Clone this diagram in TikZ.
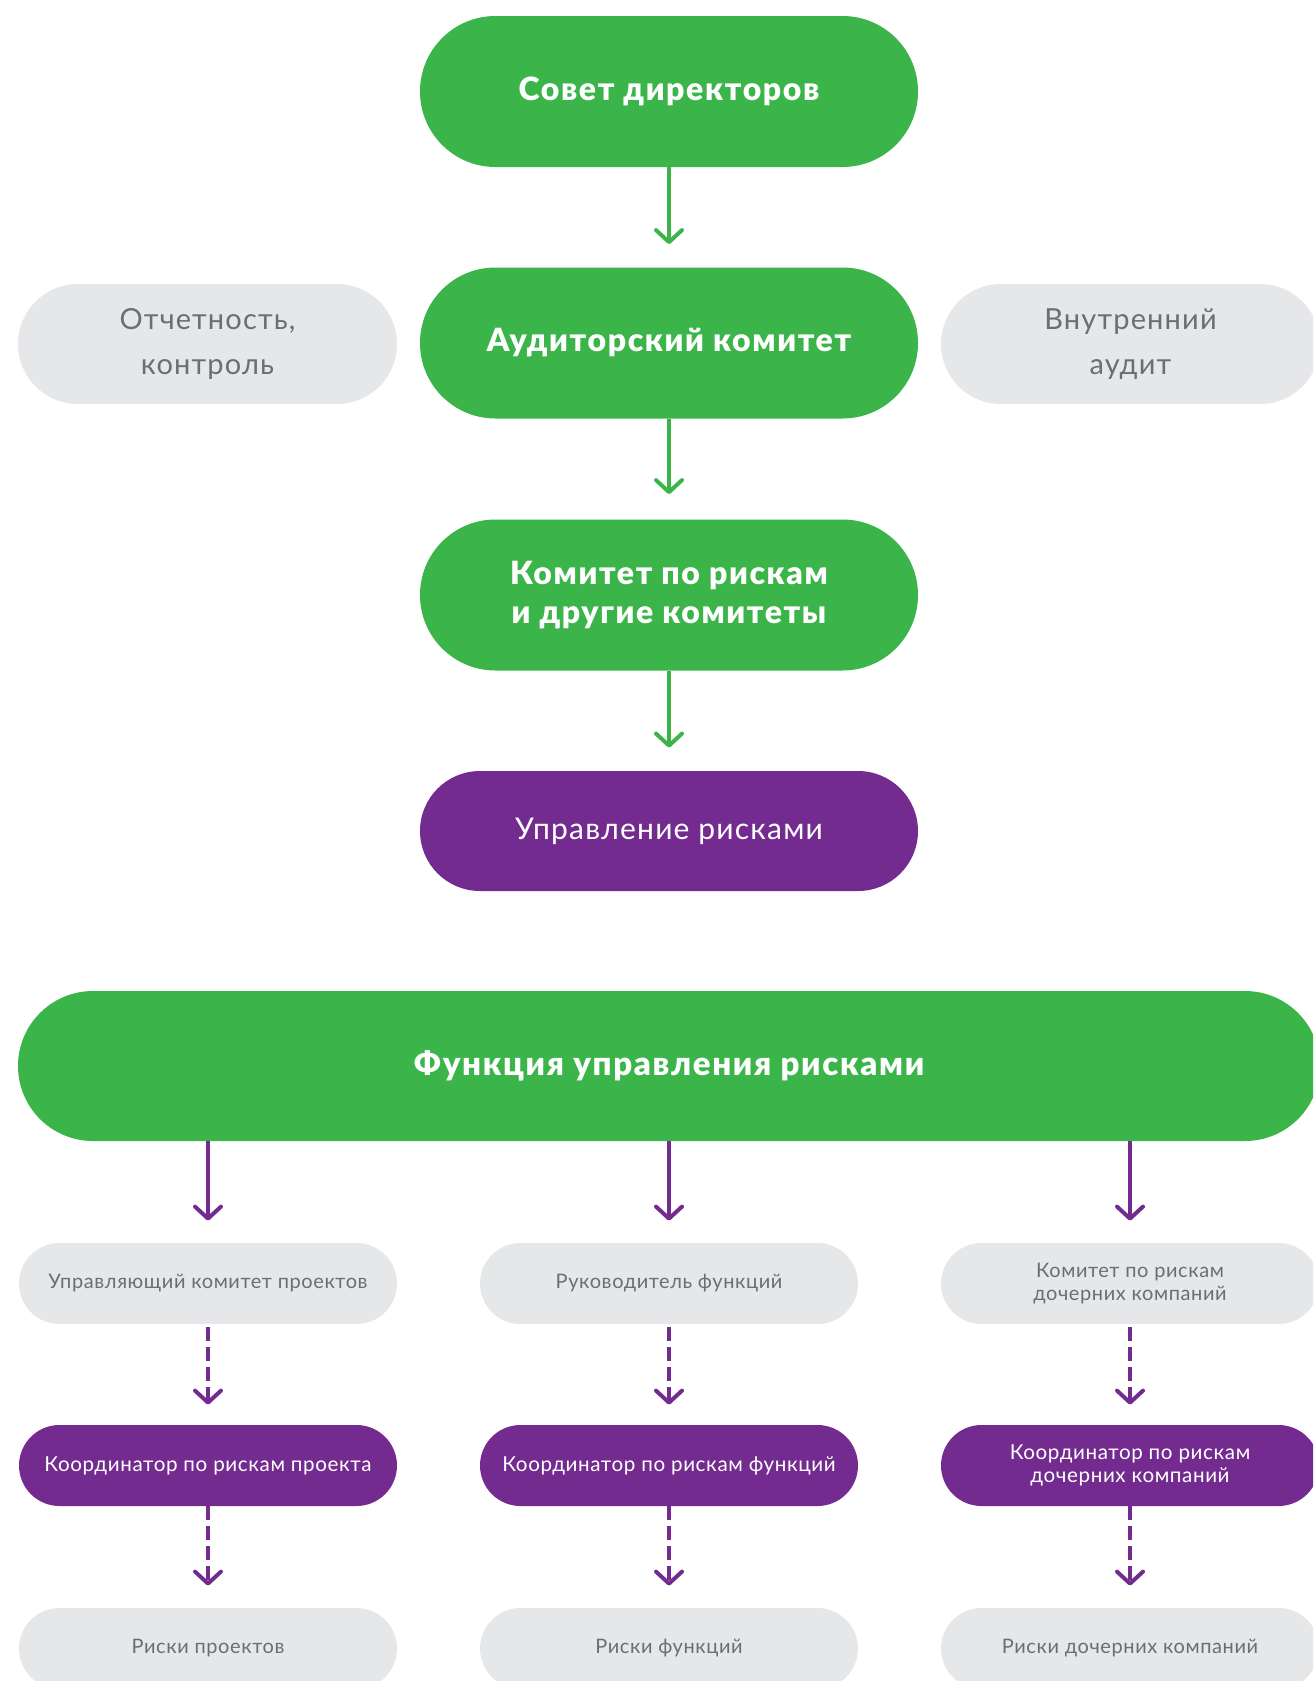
\documentclass[tikz,border=0pt]{standalone}
\usepackage{fontspec}
\setmainfont{Lato}
\newfontfamily\heavyfont{Lato Black}[LetterSpace=5]
\newfontfamily\bodyfont{Lato}[LetterSpace=4]
\newfontfamily\smallfont{Lato}[LetterSpace=3]
\usetikzlibrary{arrows.meta}
\definecolor{cgreen}{HTML}{3BB54A}
\definecolor{cpurple}{HTML}{732B8F}
\definecolor{cgrayfill}{HTML}{E6E7E8}
\definecolor{cgraytext}{HTML}{6D6E71}
\begin{document}
\begin{tikzpicture}[x=0.5pt,y=-0.5pt,
  pill/.style={rectangle, rounded corners=#1, inner sep=0pt, align=center, draw=none},
  headbox/.style={pill=37.7pt, minimum width=249pt, minimum height=75.5pt, fill=cgreen, text=white,
    font=\heavyfont\fontsize{16}{19.3}\selectfont},
  sidebox/.style={pill=30pt, minimum width=189.5pt, minimum height=60pt, fill=cgrayfill, text=cgraytext,
    font=\bodyfont\fontsize{14.5}{22.5}\selectfont},
  mgmtbox/.style={pill=30pt, minimum width=249pt, minimum height=60pt, fill=cpurple, text=white,
    font=\bodyfont\fontsize{15}{22.5}\selectfont},
  funcbox/.style={pill=37.5pt, minimum width=651pt, minimum height=75pt, fill=cgreen, text=white,
    font=\heavyfont\fontsize{16.5}{19.3}\selectfont},
  smallgray/.style={pill=20.25pt, minimum width=189pt, minimum height=40.5pt, fill=cgrayfill, text=cgraytext,
    font=\smallfont\fontsize{10}{11.8}\selectfont},
  smallpurple/.style={pill=20.25pt, minimum width=189pt, minimum height=40.5pt, fill=cpurple, text=white,
    font=\smallfont\fontsize{10.3}{11.8}\selectfont},
  barb/.style={-{Straight Barb[length=6pt,width=13pt,line cap=round,line join=round]}, line width=2pt},
  garrow/.style={barb, draw=cgreen},
  parrow/.style={barb, draw=cpurple},
  pdash/.style={barb, draw=cpurple, dash pattern=on 7pt off 3pt},
]
\useasboundingbox (0,0) rectangle (1313,1681);
\clip (0,0) rectangle (1313,1681);

% governance chain
\node[headbox] (board) at (669,91.5) {Совет директоров};
\node[headbox] (audit) at (669,343) {Аудиторский комитет};
\node[headbox] (risk)  at (669,595) {Комитет по рискам\\и другие комитеты};
\node[mgmtbox] (mgmt)  at (669,831) {Управление рисками};

\node[sidebox] (report) at (207.5,344) {Отчетность,\\контроль};
\node[sidebox] (inaud)  at (1130.5,344) {Внутренний\\аудит};

\draw[garrow, shorten >=11.5pt] (board) -- (audit);
\draw[garrow, shorten >=12.5pt] (audit) -- (risk);
\draw[garrow, shorten >=11.5pt] (risk) -- (mgmt);

% risk management function and its three branches
\node[funcbox] (func) at (669,1066) {Функция управления рисками};

\node[smallgray] (ra) at (208,1283.5) {Управляющий комитет проектов};
\node[smallgray] (rb) at (669,1283.5) {Руководитель функций};
\node[smallgray] (rc) at (1130,1283.5) {Комитет по рискам\\дочерних компаний};

\node[smallpurple] (ca) at (208,1465.5) {Координатор по рискам проекта};
\node[smallpurple] (cb) at (669,1465.5) {Координатор по рискам функций};
\node[smallpurple] (cc) at (1130,1465.5) {Координатор по рискам\\дочерних компаний};

\node[smallgray] (ka) at (208,1648.5) {Риски проектов};
\node[smallgray] (kb) at (669,1648.5) {Риски функций};
\node[smallgray] (kc) at (1130,1648.5) {Риски дочерних компаний};

\foreach \n in {ra,rb,rc}
  \draw[parrow, shorten >=11pt] (func.south -| \n.north) -- (\n.north);

\foreach \a/\b in {ra/ca,rb/cb,rc/cc}
  \draw[pdash, shorten <=1.5pt, shorten >=10pt] (\a) -- (\b);
\foreach \a/\b in {ca/ka,cb/kb,cc/kc}
  \draw[pdash, shorten >=11pt] (\a) -- (\b);
\end{tikzpicture}
\end{document}
